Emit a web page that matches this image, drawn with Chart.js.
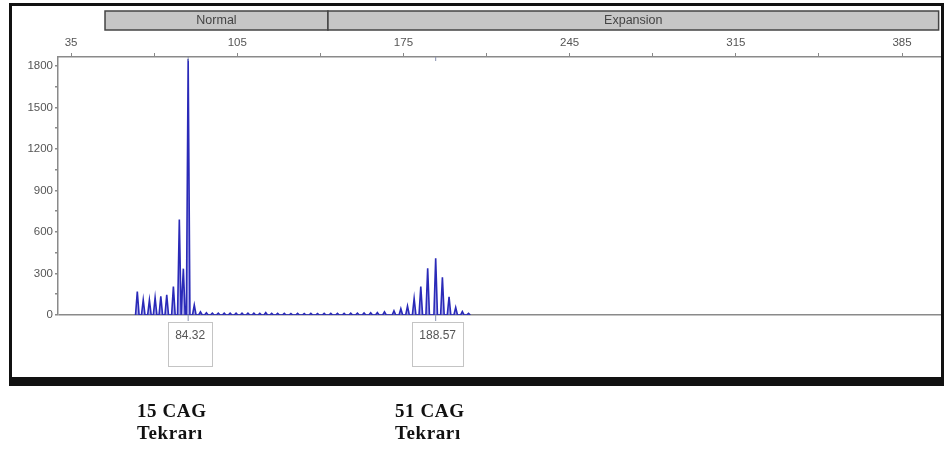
<!DOCTYPE html>
<html><head><meta charset="utf-8">
<script src="https://cdn.jsdelivr.net/npm/chart.js@4.4.0/dist/chart.umd.min.js"></script>
<style>html,body{margin:0;padding:0;background:#fff;}#c{display:block;}</style>
</head><body>
<canvas id="c" width="946" height="451"></canvas>
<script>
// ---- data ----
const cluster1Sizes   = [62.9, 65.4, 68.0, 70.4, 72.8, 75.3, 78.1, 80.6, 82.3, 84.32, 86.9];
const cluster1Heights = [170, 110, 108, 125, 135, 145, 205, 690, 335, 1850, 72];
const rippleSizes   = [89.5, 92.0, 94.5, 97.0, 99.5, 102.0, 104.5, 107.0, 109.5, 112.0, 114.5, 117.0, 119.5, 122.0, 124.8, 127.6, 130.4, 133.2, 136.0, 138.8, 141.6, 144.4];
const rippleHeights = [22, 16, 14, 14, 13, 14, 13, 13, 14, 13, 12, 17, 12, 12, 12, 11, 12, 11, 12, 11, 12, 12];
const cluster2Sizes   = [147.2, 150.0, 152.8, 155.6, 158.4, 161.2, 164.0, 167.0, 171.0, 173.9, 176.7, 179.5, 182.3, 185.2, 188.57, 191.4, 194.2, 197.0, 199.8, 202.4];
const cluster2Heights = [12, 12, 13, 14, 15, 16, 18, 22, 30, 45, 65, 120, 205, 337, 410, 272, 132, 55, 25, 12];
const markerSizes  = [84.32, 188.57];
const markerLabels = ['84.32', '188.57'];
const binLabels = ['Normal', 'Expansion'];
const binStarts = [49.3, 143.2];
const binEnds   = [143.2, 400.4];
const xMajorTicks = [35, 105, 175, 245, 315, 385];
const xMinorTicks = [70, 140, 210, 280, 350];
const yTickStep = 300;
const captionLines = [['15 CAG', 'Tekrarı'], ['51 CAG', 'Tekrarı']];
const captionX = [137, 395];

// ---- build the electropherogram trace (narrow peaks on a zero baseline) ----
const peaks = [];
cluster1Sizes.forEach((s, i) => peaks.push([s, cluster1Heights[i]]));
rippleSizes.forEach((s, i) => peaks.push([s, rippleHeights[i]]));
cluster2Sizes.forEach((s, i) => peaks.push([s, cluster2Heights[i]]));
peaks.sort((a, b) => a[0] - b[0]);
const hw = 0.75;
const trace = [];
peaks.forEach(([s, h]) => {
  trace.push({x: s - hw, y: 0});
  trace.push({x: s, y: h});
  trace.push({x: s + hw, y: 0});
});

const xTickAll = [...xMajorTicks, ...xMinorTicks].sort((a, b) => a - b);

const decor = {
  id: 'decor',
  afterDraw(chart) {
    const ctx = chart.ctx;
    const xs = chart.scales.x, ys = chart.scales.y;
    const ca = chart.chartArea;
    ctx.save();
    // outer frame
    ctx.fillStyle = '#111';
    ctx.fillRect(9, 3, 935, 3);
    ctx.fillRect(9, 3, 3, 383);
    ctx.fillRect(941, 3, 3, 383);
    ctx.fillRect(9, 377, 935, 9);
    // bins bar
    binLabels.forEach((lab, i) => {
      const x0 = xs.getPixelForValue(binStarts[i]);
      const x1 = xs.getPixelForValue(binEnds[i]);
      ctx.fillStyle = '#c6c6c6';
      ctx.fillRect(x0, 11, x1 - x0, 19);
      ctx.strokeStyle = '#444';
      ctx.lineWidth = 1.5;
      ctx.strokeRect(x0, 11, x1 - x0, 19);
      ctx.fillStyle = '#444';
      ctx.font = '12.5px "Liberation Sans", Arial, sans-serif';
      ctx.textAlign = 'center';
      ctx.textBaseline = 'middle';
      ctx.fillText(lab, (x0 + x1) / 2, 20.5);
    });
    // peak markers and label boxes
    const y0 = ys.getPixelForValue(0);
    markerSizes.forEach((s, i) => {
      const px = xs.getPixelForValue(s);
      ctx.strokeStyle = '#8890b0';
      ctx.lineWidth = 1;
      ctx.beginPath();
      ctx.moveTo(px, y0); ctx.lineTo(px, y0 + 6);
      ctx.moveTo(px, ca.top); ctx.lineTo(px, ca.top + 4);
      ctx.stroke();
      ctx.font = '12px "Liberation Sans", Arial, sans-serif';
      const w = ctx.measureText(markerLabels[i]).width + 14;
      const cx = px + 2;
      ctx.strokeStyle = '#c4c4c4';
      ctx.strokeRect(Math.round(cx - w / 2) + 0.5, 322.5, Math.round(w), 44);
      ctx.fillStyle = '#555';
      ctx.textAlign = 'center';
      ctx.textBaseline = 'middle';
      ctx.fillText(markerLabels[i], cx, 336);
    });
    // captions below the frame
    ctx.fillStyle = '#111';
    ctx.font = 'bold 19px "Liberation Serif", "Times New Roman", serif';
    ctx.textAlign = 'left';
    ctx.textBaseline = 'alphabetic';
    try { ctx.letterSpacing = '0.6px'; } catch (e) {}
    captionLines.forEach((lines, i) => {
      ctx.fillText(lines[0], captionX[i], 417);
      ctx.fillText(lines[1], captionX[i], 439);
    });
    ctx.restore();
  }
};

new Chart(document.getElementById('c'), {
  type: 'line',
  data: {
    datasets: [{
      data: trace,
      borderColor: '#2a2ab8',
      backgroundColor: 'rgba(60,60,205,0.45)',
      borderWidth: 1.6,
      fill: 'origin',
      pointRadius: 0,
      tension: 0
    }]
  },
  options: {
    responsive: false,
    animation: false,
    events: [],
    layout: {padding: {left: 10, top: 30, right: 5, bottom: 136}},
    plugins: {legend: {display: false}, tooltip: {enabled: false}},
    scales: {
      x: {
        type: 'linear',
        position: 'top',
        min: 29.5,
        max: 401.4,
        afterBuildTicks: s => { s.ticks = xTickAll.map(v => ({value: v})); },
        afterFit: s => { s.height = 27; },
        ticks: {
          autoSkip: false, maxRotation: 0, padding: 3,
          color: '#555',
          font: {size: 11.5, family: '"Liberation Sans", Arial, sans-serif'},
          callback: v => xMajorTicks.includes(v) ? String(v) : ''
        },
        grid: {drawOnChartArea: false, tickLength: 4, tickColor: '#888'},
        border: {color: '#8a8a8a', width: 1.5}
      },
      y: {
        type: 'linear',
        min: 0,
        max: 1865,
        afterFit: s => { s.width = 48; },
        ticks: {
          stepSize: yTickStep / 2,
          includeBounds: false,
          padding: 2,
          color: '#555',
          font: {size: 11.5, family: '"Liberation Sans", Arial, sans-serif'},
          callback: v => (v % yTickStep === 0) ? String(v) : ''
        },
        grid: {
          color: c => (c.tick && c.tick.value === 0) ? '#8a8a8a' : 'rgba(0,0,0,0)',
          lineWidth: 1.5,
          tickColor: '#8a8a8a',
          tickLength: 3
        },
        border: {color: '#8a8a8a', width: 1.5}
      }
    }
  },
  plugins: [decor]
});
</script>
</body></html>
